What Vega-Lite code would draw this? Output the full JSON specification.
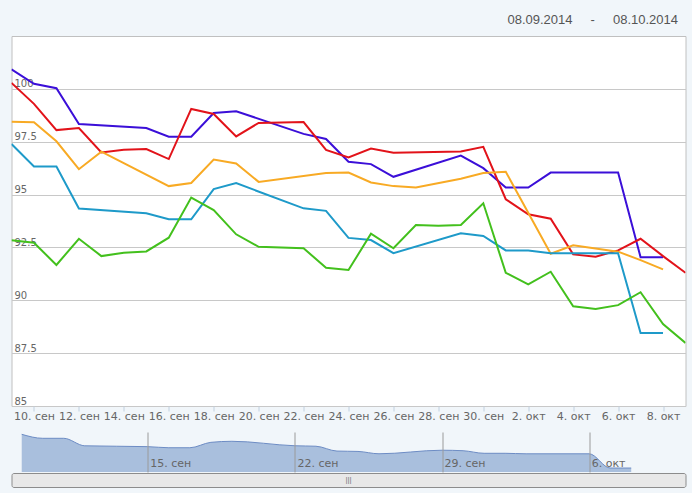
{
  "$schema": "https://vega.github.io/schema/vega-lite/v6.json",
  "background": "#f1f6fa",
  "padding": {"left": 10.5, "top": 13, "right": 5, "bottom": 5},
  "title": {
    "text": "08.09.2014\u00a0\u00a0\u00a0\u00a0\u00a0-\u00a0\u00a0\u00a0\u00a0\u00a008.10.2014",
    "anchor": "end",
    "font": "Liberation Sans",
    "fontSize": 13,
    "fontWeight": "normal",
    "color": "#555",
    "offset": 9,
    "dx": -8
  },
  "datasets": {
    "prices": [
      {"date": "2014-09-09", "series": "A", "value": 100.92},
      {"date": "2014-09-10", "series": "A", "value": 100.24},
      {"date": "2014-09-11", "series": "A", "value": 100.03},
      {"date": "2014-09-12", "series": "A", "value": 98.34},
      {"date": "2014-09-15", "series": "A", "value": 98.15},
      {"date": "2014-09-16", "series": "A", "value": 97.74},
      {"date": "2014-09-17", "series": "A", "value": 97.74},
      {"date": "2014-09-18", "series": "A", "value": 98.86},
      {"date": "2014-09-19", "series": "A", "value": 98.94},
      {"date": "2014-09-22", "series": "A", "value": 97.87},
      {"date": "2014-09-23", "series": "A", "value": 97.63},
      {"date": "2014-09-24", "series": "A", "value": 96.55},
      {"date": "2014-09-25", "series": "A", "value": 96.44},
      {"date": "2014-09-26", "series": "A", "value": 95.84},
      {"date": "2014-09-29", "series": "A", "value": 96.84},
      {"date": "2014-09-30", "series": "A", "value": 96.25},
      {"date": "2014-10-01", "series": "A", "value": 95.33},
      {"date": "2014-10-02", "series": "A", "value": 95.33},
      {"date": "2014-10-03", "series": "A", "value": 96.04},
      {"date": "2014-10-06", "series": "A", "value": 96.04},
      {"date": "2014-10-07", "series": "A", "value": 92.04},
      {"date": "2014-10-08", "series": "A", "value": 92.04},
      {"date": "2014-09-09", "series": "B", "value": 100.28},
      {"date": "2014-09-10", "series": "B", "value": 99.29},
      {"date": "2014-09-11", "series": "B", "value": 98.05},
      {"date": "2014-09-12", "series": "B", "value": 98.15},
      {"date": "2014-09-13", "series": "B", "value": 96.99},
      {"date": "2014-09-14", "series": "B", "value": 97.12},
      {"date": "2014-09-15", "series": "B", "value": 97.15},
      {"date": "2014-09-16", "series": "B", "value": 96.68},
      {"date": "2014-09-17", "series": "B", "value": 99.05},
      {"date": "2014-09-18", "series": "B", "value": 98.81},
      {"date": "2014-09-19", "series": "B", "value": 97.75},
      {"date": "2014-09-20", "series": "B", "value": 98.39},
      {"date": "2014-09-22", "series": "B", "value": 98.43},
      {"date": "2014-09-23", "series": "B", "value": 97.11},
      {"date": "2014-09-24", "series": "B", "value": 96.76},
      {"date": "2014-09-25", "series": "B", "value": 97.18},
      {"date": "2014-09-26", "series": "B", "value": 96.98},
      {"date": "2014-09-29", "series": "B", "value": 97.04},
      {"date": "2014-09-30", "series": "B", "value": 97.26},
      {"date": "2014-10-01", "series": "B", "value": 94.78},
      {"date": "2014-10-02", "series": "B", "value": 94.07},
      {"date": "2014-10-03", "series": "B", "value": 93.86},
      {"date": "2014-10-04", "series": "B", "value": 92.17},
      {"date": "2014-10-05", "series": "B", "value": 92.06},
      {"date": "2014-10-06", "series": "B", "value": 92.36},
      {"date": "2014-10-07", "series": "B", "value": 92.91},
      {"date": "2014-10-08", "series": "B", "value": 92.09},
      {"date": "2014-10-09", "series": "B", "value": 91.3},
      {"date": "2014-09-09", "series": "C", "value": 98.45},
      {"date": "2014-09-10", "series": "C", "value": 98.42},
      {"date": "2014-09-11", "series": "C", "value": 97.52},
      {"date": "2014-09-12", "series": "C", "value": 96.2},
      {"date": "2014-09-13", "series": "C", "value": 97.03},
      {"date": "2014-09-16", "series": "C", "value": 95.4},
      {"date": "2014-09-17", "series": "C", "value": 95.55},
      {"date": "2014-09-18", "series": "C", "value": 96.66},
      {"date": "2014-09-19", "series": "C", "value": 96.47},
      {"date": "2014-09-20", "series": "C", "value": 95.6},
      {"date": "2014-09-23", "series": "C", "value": 96.02},
      {"date": "2014-09-24", "series": "C", "value": 96.04},
      {"date": "2014-09-25", "series": "C", "value": 95.57},
      {"date": "2014-09-26", "series": "C", "value": 95.4},
      {"date": "2014-09-27", "series": "C", "value": 95.33},
      {"date": "2014-09-29", "series": "C", "value": 95.75},
      {"date": "2014-09-30", "series": "C", "value": 96.02},
      {"date": "2014-10-01", "series": "C", "value": 96.08},
      {"date": "2014-10-03", "series": "C", "value": 92.2},
      {"date": "2014-10-04", "series": "C", "value": 92.6},
      {"date": "2014-10-06", "series": "C", "value": 92.3},
      {"date": "2014-10-07", "series": "C", "value": 91.9},
      {"date": "2014-10-08", "series": "C", "value": 91.46},
      {"date": "2014-09-09", "series": "D", "value": 97.39},
      {"date": "2014-09-10", "series": "D", "value": 96.33},
      {"date": "2014-09-11", "series": "D", "value": 96.33},
      {"date": "2014-09-12", "series": "D", "value": 94.34},
      {"date": "2014-09-15", "series": "D", "value": 94.12},
      {"date": "2014-09-16", "series": "D", "value": 93.83},
      {"date": "2014-09-17", "series": "D", "value": 93.83},
      {"date": "2014-09-18", "series": "D", "value": 95.26},
      {"date": "2014-09-19", "series": "D", "value": 95.54},
      {"date": "2014-09-22", "series": "D", "value": 94.35},
      {"date": "2014-09-23", "series": "D", "value": 94.23},
      {"date": "2014-09-24", "series": "D", "value": 92.95},
      {"date": "2014-09-25", "series": "D", "value": 92.85},
      {"date": "2014-09-26", "series": "D", "value": 92.23},
      {"date": "2014-09-29", "series": "D", "value": 93.17},
      {"date": "2014-09-30", "series": "D", "value": 93.04},
      {"date": "2014-10-01", "series": "D", "value": 92.36},
      {"date": "2014-10-02", "series": "D", "value": 92.36},
      {"date": "2014-10-03", "series": "D", "value": 92.22},
      {"date": "2014-10-06", "series": "D", "value": 92.22},
      {"date": "2014-10-07", "series": "D", "value": 88.45},
      {"date": "2014-10-08", "series": "D", "value": 88.45},
      {"date": "2014-09-09", "series": "E", "value": 92.84},
      {"date": "2014-09-10", "series": "E", "value": 92.72},
      {"date": "2014-09-11", "series": "E", "value": 91.67},
      {"date": "2014-09-12", "series": "E", "value": 92.91},
      {"date": "2014-09-13", "series": "E", "value": 92.09},
      {"date": "2014-09-14", "series": "E", "value": 92.25},
      {"date": "2014-09-15", "series": "E", "value": 92.31},
      {"date": "2014-09-16", "series": "E", "value": 92.96},
      {"date": "2014-09-17", "series": "E", "value": 94.86},
      {"date": "2014-09-18", "series": "E", "value": 94.27},
      {"date": "2014-09-19", "series": "E", "value": 93.12},
      {"date": "2014-09-20", "series": "E", "value": 92.53},
      {"date": "2014-09-22", "series": "E", "value": 92.46},
      {"date": "2014-09-23", "series": "E", "value": 91.54},
      {"date": "2014-09-24", "series": "E", "value": 91.43},
      {"date": "2014-09-25", "series": "E", "value": 93.15},
      {"date": "2014-09-26", "series": "E", "value": 92.46},
      {"date": "2014-09-27", "series": "E", "value": 93.56},
      {"date": "2014-09-28", "series": "E", "value": 93.53},
      {"date": "2014-09-29", "series": "E", "value": 93.56},
      {"date": "2014-09-30", "series": "E", "value": 94.59},
      {"date": "2014-10-01", "series": "E", "value": 91.3},
      {"date": "2014-10-02", "series": "E", "value": 90.75},
      {"date": "2014-10-03", "series": "E", "value": 91.35},
      {"date": "2014-10-04", "series": "E", "value": 89.72},
      {"date": "2014-10-05", "series": "E", "value": 89.59},
      {"date": "2014-10-06", "series": "E", "value": 89.77},
      {"date": "2014-10-07", "series": "E", "value": 90.38},
      {"date": "2014-10-08", "series": "E", "value": 88.88},
      {"date": "2014-10-09", "series": "E", "value": 87.98}
    ]
  },
  "vconcat": [
    {
      "width": 674,
      "height": 370,
      "view": {"fill": "white", "stroke": "#c0c0c0"},
      "data": {"name": "prices"},
      "mark": {"type": "line", "strokeWidth": 2, "clip": true},
      "encoding": {
        "x": {
          "field": "date",
          "type": "temporal",
          "scale": {
            "type": "utc",
            "domain": [
              {"year": 2014, "month": 9, "date": 9, "utc": true},
              {"year": 2014, "month": 10, "date": 9, "utc": true}
            ]
          },
          "axis": {
            "title": null,
            "values": [
              {"year": 2014, "month": 9, "date": 10, "utc": true},
              {"year": 2014, "month": 9, "date": 12, "utc": true},
              {"year": 2014, "month": 9, "date": 14, "utc": true},
              {"year": 2014, "month": 9, "date": 16, "utc": true},
              {"year": 2014, "month": 9, "date": 18, "utc": true},
              {"year": 2014, "month": 9, "date": 20, "utc": true},
              {"year": 2014, "month": 9, "date": 22, "utc": true},
              {"year": 2014, "month": 9, "date": 24, "utc": true},
              {"year": 2014, "month": 9, "date": 26, "utc": true},
              {"year": 2014, "month": 9, "date": 28, "utc": true},
              {"year": 2014, "month": 9, "date": 30, "utc": true},
              {"year": 2014, "month": 10, "date": 2, "utc": true},
              {"year": 2014, "month": 10, "date": 4, "utc": true},
              {"year": 2014, "month": 10, "date": 6, "utc": true},
              {"year": 2014, "month": 10, "date": 8, "utc": true}
            ],
            "labelExpr": "utcdate(datum.value) + '. ' + (utcmonth(datum.value) == 8 ? 'сен' : 'окт')",
            "grid": false,
            "domain": false,
            "tickSize": 5,
            "tickColor": "#c0d0e0",
            "labelPadding": -1,
            "labelFlush": false,
            "labelOverlap": false,
            "labelFont": "DejaVu Sans",
            "labelFontSize": 11,
            "labelColor": "#666"
          }
        },
        "y": {
          "field": "value",
          "type": "quantitative",
          "scale": {"domain": [85, 102.5], "nice": false, "zero": false},
          "axis": {
            "title": null,
            "values": [85, 87.5, 90, 92.5, 95, 97.5, 100],
            "format": ".1~f",
            "labelAlign": "left",
            "labelBaseline": "alphabetic",
            "labelPadding": -2.5,
            "labelOffset": -2,
            "ticks": false,
            "tickSize": 0,
            "domain": false,
            "gridColor": "#c8c8c8",
            "labelFont": "DejaVu Sans",
            "labelFontSize": 10,
            "labelColor": "#666"
          }
        },
        "color": {
          "field": "series",
          "type": "nominal",
          "scale": {
            "domain": ["D", "C", "E", "B", "A"],
            "range": ["#1e9ac9", "#f8aa24", "#43c01d", "#e2131a", "#3b0fd8"]
          },
          "legend": null
        }
      }
    },
    {
      "spacing": 0,
      "vconcat": [
        {
          "width": 674,
          "height": 40,
          "view": {"stroke": null},
          "data": {"name": "prices"},
          "transform": [{"filter": "datum.series === 'D'"}],
          "mark": {
            "type": "area",
            "interpolate": "monotone",
            "clip": true,
            "color": "#a9bfdd",
            "opacity": 1,
            "line": {"color": "#6d8cc4", "strokeWidth": 1}
          },
          "encoding": {
            "x": {
              "field": "date",
              "type": "temporal",
              "scale": {
                "type": "utc",
                "domain": [
                  {"year": 2014, "month": 9, "date": 8, "hours": 12, "minutes": 20, "utc": true},
                  {"year": 2014, "month": 10, "date": 10, "hours": 14, "utc": true}
                ]
              },
              "axis": {
                "title": null,
                "values": [
                  {"year": 2014, "month": 9, "date": 15, "utc": true},
                  {"year": 2014, "month": 9, "date": 22, "utc": true},
                  {"year": 2014, "month": 9, "date": 29, "utc": true},
                  {"year": 2014, "month": 10, "date": 6, "utc": true}
                ],
                "labelExpr": "utcdate(datum.value) + '. ' + (utcmonth(datum.value) == 8 ? 'сен' : 'окт')",
                "grid": true,
                "gridColor": "#9a9a9a",
                "zindex": 1,
                "domain": false,
                "ticks": false,
                "tickSize": 0,
                "labelAlign": "left",
                "labelBaseline": "middle",
                "labelPadding": -9,
                "labelOffset": 2,
                "labelFlush": false,
                "labelOverlap": false,
                "labelFont": "DejaVu Sans",
                "labelFontSize": 11,
                "labelColor": "#666"
              }
            },
            "y": {
              "field": "value",
              "type": "quantitative",
              "scale": {"domain": [87.4, 98], "nice": false, "zero": false},
              "axis": null
            }
          }
        },
        {
          "width": 674,
          "height": 14,
          "view": {"fill": "#e8e8e8", "stroke": "#8c8c8c", "cornerRadius": 2},
          "data": {"values": [{"grip": "|||"}]},
          "mark": {"type": "text", "fontSize": 8, "color": "#777", "baseline": "middle"},
          "encoding": {"text": {"field": "grip"}}
        }
      ]
    }
  ],
  "spacing": 10
}
